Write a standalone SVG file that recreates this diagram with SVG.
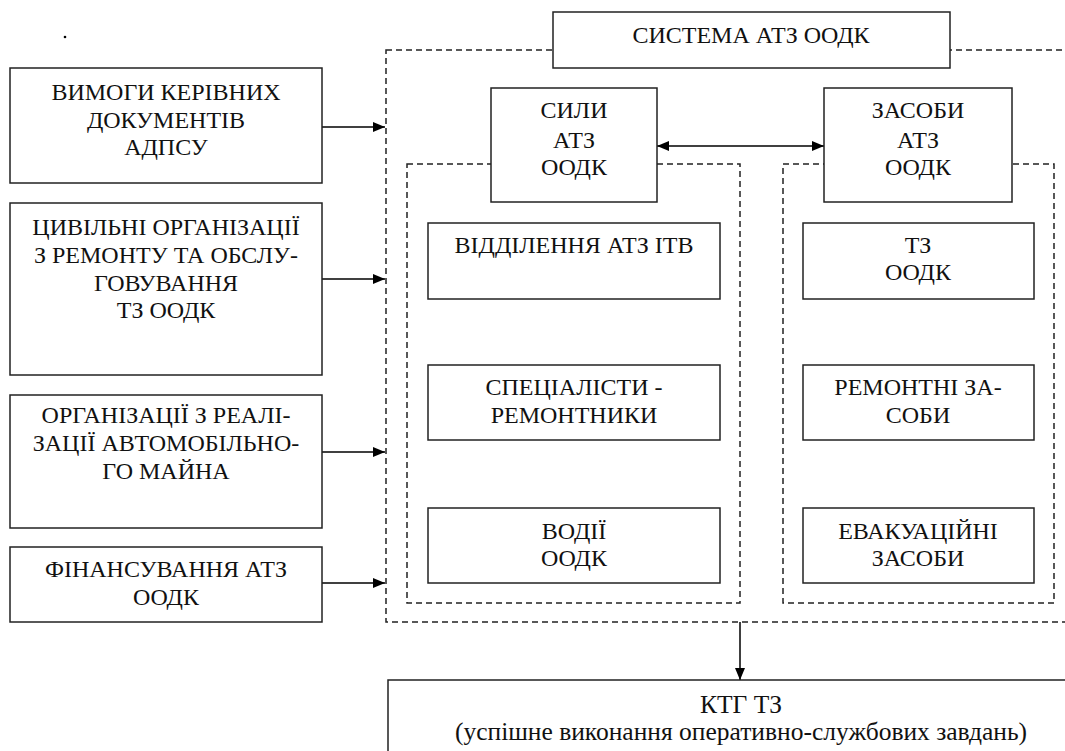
<svg xmlns="http://www.w3.org/2000/svg" width="1065" height="751" viewBox="0 0 1065 751">
<defs>
<marker id="ah" viewBox="0 0 12 10" refX="12" refY="5" markerWidth="12" markerHeight="10" markerUnits="userSpaceOnUse" orient="auto-start-reverse">
<path d="M0,0 L12,5 L0,10 Z" fill="#000"/>
</marker>
<style>
.box{fill:#fff;stroke:#222;stroke-width:1.5}
.dash{fill:none;stroke:#222;stroke-width:1.5;stroke-dasharray:6 4}
.ln{stroke:#000;stroke-width:1.5;fill:none}
.t{font-family:"Liberation Serif","Times New Roman",serif;font-size:24px;fill:#111;text-anchor:middle}
.tb{font-size:25.5px}
</style>
</defs>
<rect width="1065" height="751" fill="#fff"/>
<circle cx="65" cy="37" r="1.3" fill="#000"/>
<g id="containers">
<rect class="dash" x="386" y="50" width="700" height="572"/>
<rect class="dash" x="407" y="164" width="333" height="439"/>
<rect class="dash" x="783" y="164" width="271" height="439"/>
</g>
<g id="connectors">
<line class="ln" x1="322" y1="127" x2="385" y2="127" marker-end="url(#ah)"/>
<line class="ln" x1="322" y1="279" x2="385" y2="279" marker-end="url(#ah)"/>
<line class="ln" x1="322" y1="452" x2="385" y2="452" marker-end="url(#ah)"/>
<line class="ln" x1="322" y1="583" x2="385" y2="583" marker-end="url(#ah)"/>
<line class="ln" x1="657" y1="146" x2="824" y2="146" marker-start="url(#ah)" marker-end="url(#ah)"/>
<line class="ln" x1="740" y1="622" x2="740" y2="680" marker-end="url(#ah)"/>
</g>
<g id="n-vymogy"><rect class="box" x="10" y="68" width="312" height="115"/>
<text class="t" x="166" y="100">ВИМОГИ КЕРІВНИХ</text>
<text class="t" x="166" y="128">ДОКУМЕНТІВ</text>
<text class="t" x="166" y="155">АДПСУ</text></g>
<g id="n-tsyvilni"><rect class="box" x="10" y="203" width="312" height="172"/>
<text class="t" x="166" y="235">ЦИВІЛЬНІ ОРГАНІЗАЦІЇ</text>
<text class="t" x="166" y="263">З РЕМОНТУ ТА ОБСЛУ-</text>
<text class="t" x="166" y="291">ГОВУВАННЯ</text>
<text class="t" x="166" y="318">ТЗ ООДК</text></g>
<g id="n-orhanizatsii"><rect class="box" x="10" y="395" width="312" height="133"/>
<text class="t" x="166" y="423">ОРГАНІЗАЦІЇ З РЕАЛІ-</text>
<text class="t" x="166" y="451">ЗАЦІЇ АВТОМОБІЛЬНО-</text>
<text class="t" x="166" y="479">ГО МАЙНА</text></g>
<g id="n-finansuvannia"><rect class="box" x="10" y="547" width="312" height="75"/>
<text class="t" x="166" y="577">ФІНАНСУВАННЯ АТЗ</text>
<text class="t" x="166" y="605">ООДК</text></g>
<g id="n-systema"><rect class="box" x="553" y="12" width="397" height="56"/>
<text class="t" x="751" y="43">СИСТЕМА АТЗ ООДК</text></g>
<g id="n-syly"><rect class="box" x="491" y="88" width="166" height="114"/>
<text class="t" x="574" y="118">СИЛИ</text>
<text class="t" x="574" y="148">АТЗ</text>
<text class="t" x="574" y="175">ООДК</text></g>
<g id="n-zasoby"><rect class="box" x="824" y="88" width="188" height="114"/>
<text class="t" x="918" y="118">ЗАСОБИ</text>
<text class="t" x="918" y="148">АТЗ</text>
<text class="t" x="918" y="175">ООДК</text></g>
<g id="n-viddilennia"><rect class="box" x="428" y="223" width="292" height="76"/>
<text class="t" x="574" y="253">ВІДДІЛЕННЯ АТЗ ІТВ</text></g>
<g id="n-spetsialisty"><rect class="box" x="428" y="365" width="292" height="75"/>
<text class="t" x="574" y="395">СПЕЦІАЛІСТИ -</text>
<text class="t" x="574" y="423">РЕМОНТНИКИ</text></g>
<g id="n-vodii"><rect class="box" x="428" y="508" width="292" height="75"/>
<text class="t" x="574" y="539">ВОДІЇ</text>
<text class="t" x="574" y="566">ООДК</text></g>
<g id="n-tz"><rect class="box" x="803" y="223" width="231" height="76"/>
<text class="t" x="918" y="253">ТЗ</text>
<text class="t" x="918" y="280">ООДК</text></g>
<g id="n-remontni"><rect class="box" x="803" y="365" width="231" height="75"/>
<text class="t" x="918" y="395">РЕМОНТНІ ЗА-</text>
<text class="t" x="918" y="423">СОБИ</text></g>
<g id="n-evakuatsiini"><rect class="box" x="803" y="508" width="231" height="75"/>
<text class="t" x="918" y="539">ЕВАКУАЦІЙНІ</text>
<text class="t" x="918" y="566">ЗАСОБИ</text></g>
<g id="n-ktg"><rect class="box" x="388" y="680" width="700" height="90"/>
<text class="t tb" x="741" y="713">КТГ ТЗ</text>
<text class="t tb" x="741" y="740">(успішне виконання оперативно-службових завдань)</text></g>
</svg>
